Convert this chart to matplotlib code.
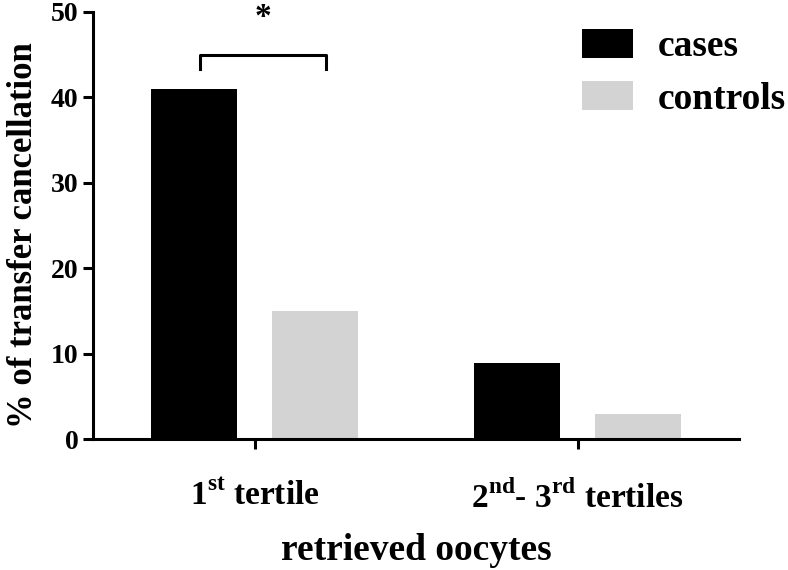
import matplotlib.pyplot as plt
import numpy as np

# data
groups = [r'1$^{\mathrm{st}}$ tertile', r'2$^{\mathrm{nd}}$- 3$^{\mathrm{rd}}$ tertiles']
cases = [41, 9]
controls = [15, 3]

plt.rcParams['font.family'] = 'Liberation Serif'
plt.rcParams['font.weight'] = 'bold'
plt.rcParams['axes.labelweight'] = 'bold'
plt.rcParams['mathtext.fontset'] = 'custom'
plt.rcParams['mathtext.rm'] = 'Liberation Serif:bold'

fig = plt.figure(figsize=(7.88, 5.70), dpi=100)
ax = fig.add_axes([0.118, 0.229, 0.820, 0.750])

x = np.arange(len(groups))
w = 0.268
off = 0.187
ax.bar(x - off, cases, w, color='black', label='cases')
ax.bar(x + off, controls, w, color='#d3d3d3', label='controls')

# significance bracket
ax.plot([-0.168, -0.168, 0.221, 0.221], [43.3, 45.0, 45.0, 43.3], color='black', lw=2.2,
        solid_joinstyle='round', clip_on=False)
ax.text(0.025, 49.4, '*', ha='center', va='center', fontsize=24, clip_on=False)

ax.set_xlim(-0.5, 1.5)
ax.set_ylim(0, 50)
ax.set_yticks([0, 10, 20, 30, 40, 50])
ax.set_xticks(x)
ax.set_xticklabels(groups)

for s in ['top', 'right']:
    ax.spines[s].set_visible(False)
for s in ['left', 'bottom']:
    ax.spines[s].set_linewidth(2.2)

ax.tick_params(axis='both', width=2.2, length=7, labelsize=20)
ax.tick_params(axis='x', labelsize=24, pad=23)

ax.set_ylabel('% of transfer cancellation', fontsize=25)
ax.yaxis.set_label_coords(-0.082, 0.478)
ax.set_xlabel('retrieved oocytes', fontsize=27, labelpad=13)

ax.legend(loc='upper left', bbox_to_anchor=(0.739, 0.949), bbox_transform=fig.transFigure,
          frameon=False, fontsize=27, handlelength=1.36, handleheight=0.8,
          labelspacing=0.45, handletextpad=0.64, borderpad=0, borderaxespad=0)

fig.savefig('out.png', dpi=100)
